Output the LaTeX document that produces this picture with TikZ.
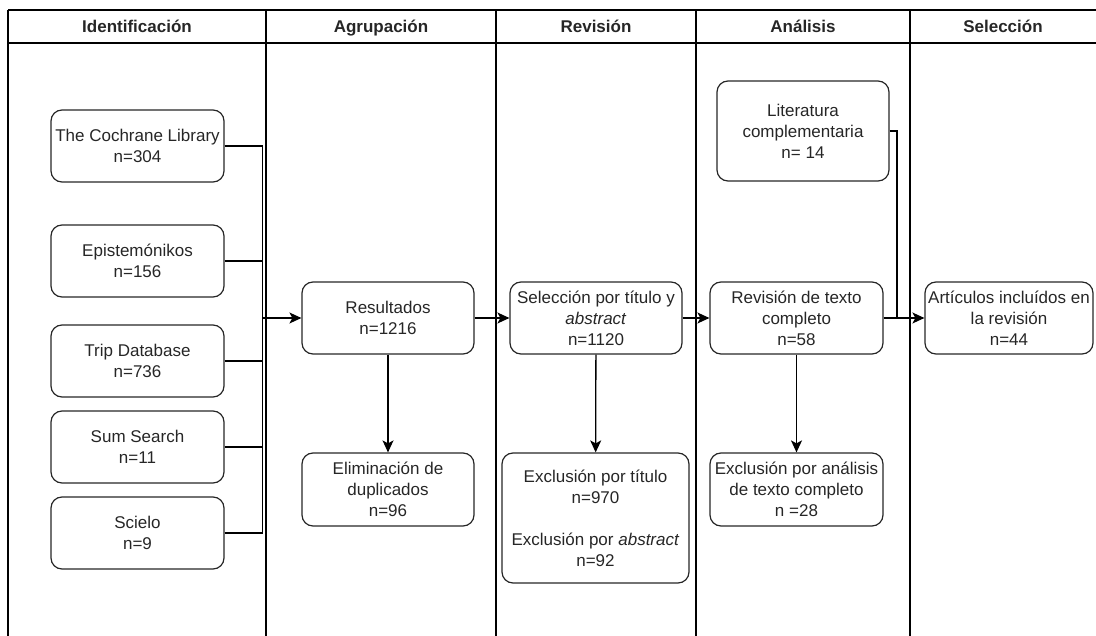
\documentclass[tikz,border=0pt]{standalone}
\usepackage{fontspec}
\setmainfont{Liberation Sans}
\usepackage{xcolor}
\usetikzlibrary{positioning, arrows.meta}

\definecolor{txtgray}{RGB}{38,38,38}

\begin{document}
\begin{tikzpicture}[x=1pt, y=-1pt,
    >={Stealth[length=12pt, width=11pt, inset=3pt]}, % Arrow tip style
    pool/.style={line width=1.2pt, draw=black},
    lanetitle/.style={font=\fontsize{17}{21}\selectfont\bfseries, text=txtgray, anchor=base},
    box/.style={draw=black!85, line width=1.2pt, rounded corners=11pt, align=center,
        minimum width=173pt, minimum height=72pt, inner sep=2pt,
        font=\fontsize{17}{21}\selectfont, text=txtgray},
    link/.style={line width=1.3pt},
    arr/.style={line width=1.3pt, ->}]
                        \useasboundingbox (0,0) rectangle (1096,636);

                        % Swimlanes
                        \draw[pool] (8,10) -- (1100,10);
                        \draw[pool] (8,43) -- (1100,43);
                        \foreach \x in {8,266,496,696,910}
                            \draw[pool] (\x,10) -- (\x,640);

                        \node[lanetitle] (t1) at (137,33) {Identificación};
                        \node[lanetitle] (t2) at (381,33) {Agrupación};
                        \node[lanetitle] (t3) at (596,33) {Revisión};
                        \node[lanetitle] (t4) at (803,33) {Análisis};
                        \node[lanetitle] (t5) at (1003,33) {Selección};

                        % Sources
                        \node[box] (coch) at (137.5,146) {The Cochrane Library\\n=304};
                        \node[box] (epis) at (137.5,261) {Epistemónikos\\n=156};
                        \node[box] (trip) at (137.5,361) {Trip Database\\n=736};
                        \node[box] (sums) at (137.5,447) {Sum Search\\n=11};
                        \node[box] (scie) at (137.5,533) {Scielo\\n=9};

                        % Grouping
                        \node[box, minimum width=172pt] (res) at (388,318) {Resultados\\n=1216};
                        \node[box, minimum width=172pt, minimum height=73pt] (elim) at (388,489.5) {Eliminación de\\duplicados\\n=96};

                        % Review
                        \node[box, minimum width=172pt] (selt) at (596,318) {Selección por título y\\\textit{abstract}\\n=1120};
                        \node[box, minimum width=187pt, minimum height=130pt] (excl) at (595.5,518) {Exclusión por título\\n=970\\[21pt]Exclusión por \textit{abstract}\\n=92};

                        % Analysis
                        \node[box, minimum width=172pt, minimum height=100pt] (lit) at (803,131) {Literatura\\complementaria\\n= 14};
                        \node[box] (rtc) at (796.5,318) {Revisión de texto\\completo\\n=58};
                        \node[box, minimum height=73pt] (exan) at (796.5,489.5) {Exclusión por análisis\\de texto completo\\n =28};

                        % Selection
                        \node[box, minimum width=168pt] (art) at (1009,318) {Artículos incluídos en\\la revisión\\n=44};

                        % Connectors
                        \coordinate (bus) at (262.5,318);
                        \foreach \s in {coch,epis,trip,sums,scie}
                            \draw[link] (\s.east) -| (bus);
                        \draw[arr] (bus) -- (res.west);
                        \draw[arr] (res) -- (elim);
                        \draw[arr] (res.east) -- (selt.west);
                        \draw[arr] (selt) -- (excl);
                        \draw[arr] (selt.east) -- (rtc.west);
                        \draw[arr] (rtc) -- (exan);

                        \coordinate (merge) at (897,318);
                        \draw[link] (lit.east) -| (merge);
                        \draw[arr] (rtc.east) -- (art.west);
                    \end{tikzpicture}
\end{document}
